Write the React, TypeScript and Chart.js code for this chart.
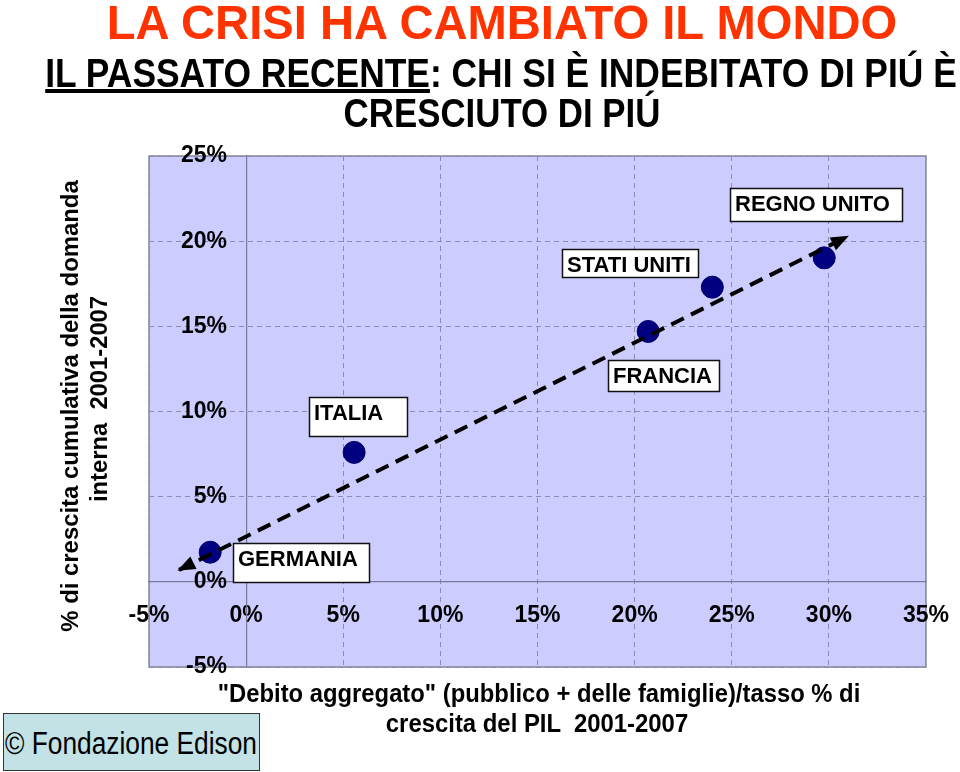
import React, { useEffect, useLayoutEffect, useRef } from 'react';
import { Chart, registerables } from 'chart.js';

Chart.register(...registerables);

// ---------- data ----------
const countries = ['GERMANIA', 'ITALIA', 'FRANCIA', 'STATI UNITI', 'REGNO UNITO'];
const debtGrowth = [-1.85, 5.56, 20.7, 24.0, 29.76];
const demandGrowth = [1.74, 7.6, 14.7, 17.3, 19.02];
const trendX = [-3.45, 30.94];
const trendY = [0.7, 20.26];
// label boxes: top-left corner in data units
const labelX = [-0.67, 3.24, 18.64, 16.27, 24.92];
const labelY = [2.29, 10.86, 13.04, 19.55, 23.14];
const xMin = -5;
const xMax = 35;
const yMin = -5;
const yMax = 25;
const tickStep = 5;

// ---------- styles ----------
const SANS = "'Liberation Sans', Arial, Helvetica, sans-serif";
const NARROW = "'Liberation Sans Narrow', 'Arial Narrow', 'Liberation Sans', Arial, sans-serif";
const BOX_W = [136, 98, 111, 136, 172];
const BOX_H = [39, 39, 31, 28, 33];
const GRID = '#8c8cb2';
const AXIS = '#7a7a9c';
const CANVAS_W = 969;
const CANVAS_H = 772;

const bgPlugin = {
  id: 'plotBg',
  beforeDraw(chart: any) {
    const { ctx, chartArea: a } = chart;
    ctx.save();
    ctx.fillStyle = '#CCCCFF';
    ctx.fillRect(a.left, a.top, a.right - a.left, a.bottom - a.top);
    ctx.strokeStyle = '#858595';
    ctx.lineWidth = 1.5;
    ctx.strokeRect(a.left, a.top, a.right - a.left, a.bottom - a.top);
    ctx.restore();
  },
};

const arrowPlugin = {
  id: 'arrows',
  afterDatasetsDraw(chart: any) {
    const ctx = chart.ctx;
    const meta = chart.getDatasetMeta(0);
    const pts = meta.data;
    if (!pts || pts.length < 2) return;
    const head = (tip: any, from: any) => {
      const ang = Math.atan2(tip.y - from.y, tip.x - from.x);
      const L = 16;
      const W = 7;
      const c = Math.cos(ang);
      const s = Math.sin(ang);
      ctx.beginPath();
      ctx.moveTo(tip.x + 2 * c, tip.y + 2 * s);
      ctx.lineTo(tip.x - L * c + W * s, tip.y - L * s - W * c);
      ctx.lineTo(tip.x - L * c - W * s, tip.y - L * s + W * c);
      ctx.closePath();
      ctx.fill();
    };
    ctx.save();
    ctx.fillStyle = '#000';
    head(pts[pts.length - 1], pts[0]);
    head(pts[0], pts[pts.length - 1]);
    ctx.restore();
  },
};

const labelPlugin = {
  id: 'countryLabels',
  afterDatasetsDraw(chart: any) {
    const { ctx } = chart;
    const xs = chart.scales.x;
    const ys = chart.scales.y;
    ctx.save();
    ctx.font = `bold 22px ${SANS}`;
    countries.forEach((name, i) => {
      const left = Math.round(xs.getPixelForValue(labelX[i]));
      const top = Math.round(ys.getPixelForValue(labelY[i]));
      const w = BOX_W[i];
      const h = BOX_H[i];
      ctx.fillStyle = '#ffffff';
      ctx.fillRect(left, top, w, h);
      ctx.strokeStyle = '#111';
      ctx.lineWidth = 1.5;
      ctx.strokeRect(left + 0.5, top + 0.5, w, h);
      ctx.fillStyle = '#000';
      ctx.textBaseline = 'alphabetic';
      ctx.textAlign = 'left';
      ctx.fillText(name, left + 5, top + 23);
    });
    ctx.restore();
  },
};

type TProps = {
  cx: number;
  base?: number;
  cy?: number;
  w: number;
  fs: number;
  weight?: string;
  family?: string;
  color?: string;
  rot?: boolean;
  children: React.ReactNode;
};

function T({ cx, base = 0, cy = 0, w, fs, weight = 'bold', family = SANS, color = '#000', rot = false, children }: TProps) {
  const pre = rot ? 'translate(-50%, -50%) rotate(-90deg)' : 'translateX(-50%)';
  const style: React.CSSProperties = {
    position: 'absolute',
    left: cx,
    top: rot ? cy : base - 0.8465 * fs,
    fontSize: fs,
    lineHeight: `${fs}px`,
    fontWeight: weight as any,
    fontFamily: family,
    color,
    whiteSpace: 'pre',
    transformOrigin: 'center center',
    transform: pre,
  };
  return (
    <div data-w={w} data-pre={pre} style={style}>
      {children}
    </div>
  );
}

export default function App() {
  const canvasRef = useRef<HTMLCanvasElement | null>(null);
  const wrapRef = useRef<HTMLDivElement | null>(null);

  useLayoutEffect(() => {
    const fit = () => {
      const els = wrapRef.current?.querySelectorAll('[data-w]') || [];
      els.forEach((el: any) => {
        const target = parseFloat(el.dataset.w);
        const nat = el.offsetWidth;
        if (nat > 0) el.style.transform = `${el.dataset.pre} scaleX(${target / nat})`;
      });
    };
    fit();
    if ((document as any).fonts?.ready) (document as any).fonts.ready.then(fit);
  }, []);

  useEffect(() => {
    if (!canvasRef.current) return;
    const tickFont = { family: SANS, size: 23, weight: 'bold' as const };
    const chart = new Chart(canvasRef.current, {
      type: 'scatter',
      data: {
        datasets: [
          {
            type: 'line',
            data: trendX.map((x, i) => ({ x, y: trendY[i] })),
            borderColor: '#000',
            borderWidth: 4,
            borderDash: [14, 8],
            pointRadius: 0,
            fill: false,
            order: 0,
          } as any,
          {
            type: 'scatter',
            data: debtGrowth.map((x, i) => ({ x, y: demandGrowth[i] })),
            pointRadius: 11,
            pointHoverRadius: 11,
            backgroundColor: '#000080',
            borderColor: '#00006a',
            borderWidth: 1,
            order: 1,
          } as any,
        ],
      },
      options: {
        animation: false,
        responsive: false,
        devicePixelRatio: 1,
        layout: { padding: { left: 149, top: 156, right: 40, bottom: 105 } },
        plugins: { legend: { display: false }, tooltip: { enabled: false } },
        scales: {
          x: {
            type: 'linear',
            min: xMin,
            max: xMax,
            position: { y: 0 } as any,
            ticks: {
              stepSize: tickStep,
              autoSkip: false,
              maxRotation: 0,
              padding: 20,
              color: '#000',
              font: tickFont,
              callback: (v: any) => `${Math.round(Number(v))}%`,
            },
            grid: { color: GRID, lineWidth: 1, drawTicks: false },
            border: { display: true, color: AXIS, width: 1.2, dash: [5, 4] },
          },
          y: {
            type: 'linear',
            min: yMin,
            max: yMax,
            position: { x: 0 } as any,
            ticks: {
              stepSize: tickStep,
              autoSkip: false,
              color: '#000',
              font: tickFont,
              // trailing spaces keep the right-aligned labels clear of the axis line
              callback: (v: any) => `${Math.round(Number(v))}%   `,
            },
            grid: { color: GRID, lineWidth: 1, drawTicks: false },
            border: { display: true, color: AXIS, width: 1.2, dash: [5, 4] },
          },
        },
      } as any,
      plugins: [bgPlugin, arrowPlugin, labelPlugin],
    });
    return () => chart.destroy();
  }, []);

  return (
    <div
      ref={wrapRef}
      style={{ position: 'absolute', left: 0, top: 0, width: 960, height: 772, background: '#fff', overflow: 'hidden' }}
    >
      <canvas
        ref={canvasRef}
        width={CANVAS_W}
        height={CANVAS_H}
        style={{ position: 'absolute', left: 0, top: 0, width: CANVAS_W, height: CANVAS_H }}
      />

      <T cx={502} base={40} w={790} fs={48} family={NARROW} color="#FF3300">
        LA CRISI HA CAMBIATO IL MONDO
      </T>
      <T cx={501} base={87} w={912} fs={40} family={NARROW}>
        <span style={{ textDecoration: 'underline' }}>IL PASSATO RECENTE</span>: CHI SI È INDEBITATO DI PIÚ È
      </T>
      <T cx={501.5} base={127} w={317} fs={40} family={NARROW}>
        CRESCIUTO DI PIÚ
      </T>

      <T rot cx={70} cy={406} w={452} fs={24}>
        % di crescita cumulativa della domanda
      </T>
      <T rot cx={99} cy={399} w={206} fs={24}>
        {'interna  2001-2007'}
      </T>

      <T cx={539} base={702} w={643} fs={25} family={NARROW}>
        "Debito aggregato" (pubblico + delle famiglie)/tasso % di
      </T>
      <T cx={537} base={732} w={302} fs={25} family={NARROW}>
        {'crescita del PIL  2001-2007'}
      </T>

      <div
        style={{
          position: 'absolute',
          left: 3,
          top: 713,
          width: 257,
          height: 58,
          boxSizing: 'border-box',
          background: '#C2E2E6',
          border: '1.5px solid #333',
        }}
      />
      <T cx={131} base={754} w={252} fs={31} weight="normal" family={SANS}>
        © Fondazione Edison
      </T>
    </div>
  );
}
